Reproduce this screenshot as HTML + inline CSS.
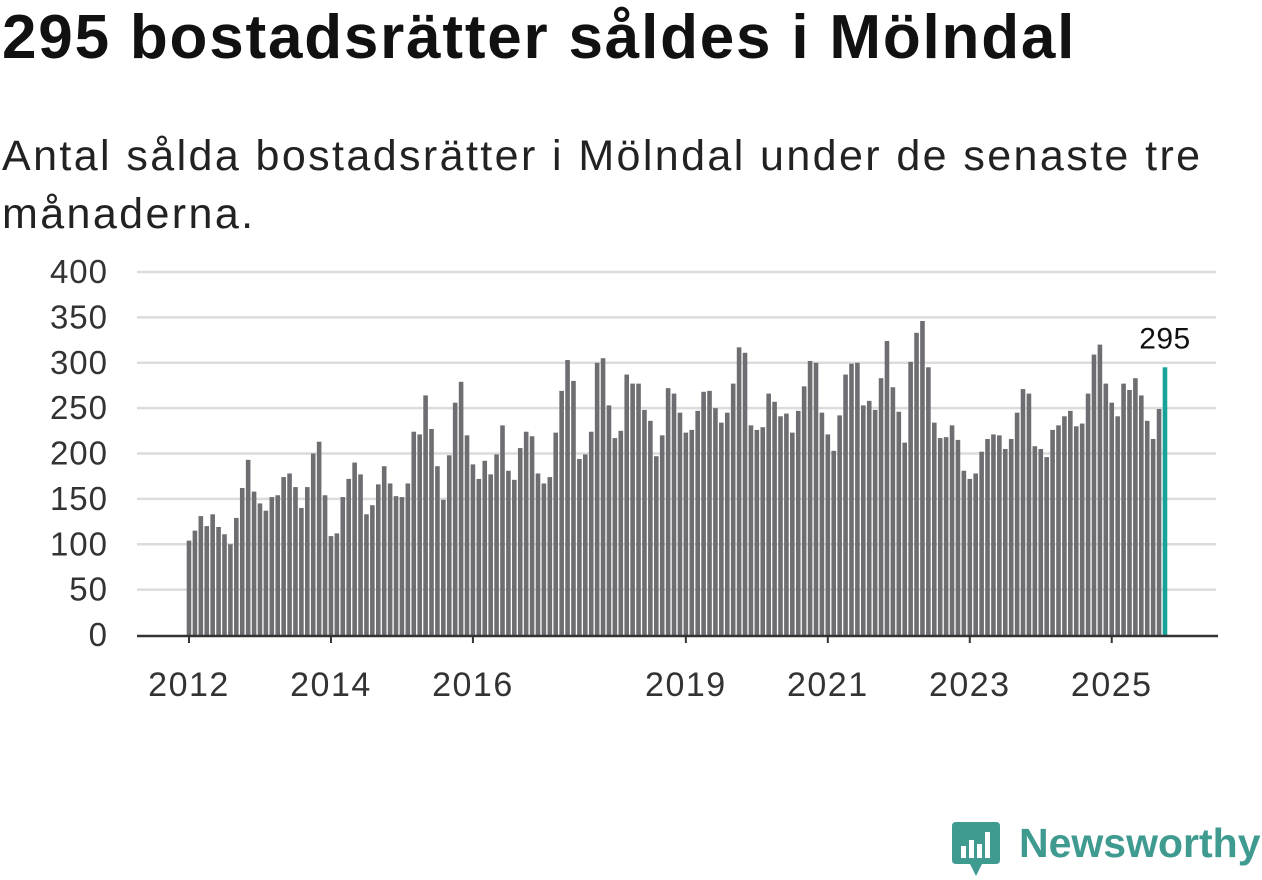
<!DOCTYPE html>
<html><head><meta charset="utf-8">
<style>
html,body{margin:0;padding:0;background:#fff;width:1262px;height:879px;overflow:hidden;font-family:"Liberation Sans",sans-serif;color:#111;}
h1{position:absolute;left:2px;top:2px;margin:0;font-size:62px;font-weight:bold;letter-spacing:1.8px;white-space:nowrap;}
.sub{position:absolute;left:2px;top:127px;margin:0;font-size:43px;line-height:58px;width:1250px;color:#222;letter-spacing:2.4px;}
svg{position:absolute;left:0;top:0;}
</style></head><body>
<h1>295 bostadsrätter såldes i Mölndal</h1>
<p class="sub">Antal sålda bostadsrätter i Mölndal under de senaste tre månaderna.</p>
<svg id="chart" width="1262" height="879"></svg>
<script>
const startYear = 2012;
const values = [104,115,131,120,133,119,111,100,129,162,193,158,145,137,152,154,174,178,163,140,163,200,213,154,109,112,152,172,190,177,133,143,166,
186,167,153,152,167,224,221,264,227,186,149,198,256,279,220,188,172,192,177,199,231,181,171,206,224,219,178,167,174,223,269,303,
280,194,199,224,300,305,253,217,225,287,277,277,248,236,197,220,272,266,245,223,226,247,268,269,250,234,245,277,317,311,231,226,
229,266,257,241,244,223,247,274,302,300,245,221,203,242,287,299,300,253,258,248,283,324,273,246,212,301,333,346,295,234,217,218,231,215,181,172,
178,202,216,221,220,205,216,245,271,266,208,205,196,226,231,241,247,230,233,266,309,320,277,256,241,277,270,283,264,236,216,249,295];
const yTicks = [0,50,100,150,200,250,300,350,400];
const xTickYears = [2012,2014,2016,2019,2021,2023,2025];

const svg = document.getElementById('chart');
const NS = 'http://www.w3.org/2000/svg';
const x0 = 189, step = 5.915, yBase = 635, yScale = 363/400;
const xPos = i => x0 + i*step;
const yPos = v => yBase - v*yScale;
function mk(tag, attrs){const e=document.createElementNS(NS,tag);for(const k in attrs)e.setAttribute(k,attrs[k]);svg.appendChild(e);return e;}

yTicks.forEach(t=>{
  if(t>0){const g=mk('line',{x1:137,x2:1216,y1:yPos(t),y2:yPos(t),stroke:'#dcdcdc','stroke-width':2.5});
  
  }
  const l=mk('text',{x:108,y:yPos(t)+11,'text-anchor':'end','font-size':33,'letter-spacing':1,fill:'#333','font-family':'Liberation Sans, sans-serif'});
  l.textContent=t;
  
  
});
values.forEach((v,i)=>{
  const last = i===values.length-1;
  const b=mk('rect',{x:xPos(i)-2.3,y:yPos(v),width:4.6,height:v*yScale,fill:last?'#17a398':'#6e6d72'});
  
  
});
const ax=mk('line',{x1:137,x2:1218,y1:yBase+1,y2:yBase+1,stroke:'#333','stroke-width':2.5});


xTickYears.forEach(yr=>{
  const x=xPos((yr-startYear)*12);
  const tk=mk('line',{x1:x,x2:x,y1:yBase+1,y2:yBase+8,stroke:'#333','stroke-width':2});
  
  
  const t=mk('text',{x:x,y:696,'text-anchor':'middle','font-size':34,'letter-spacing':1.5,fill:'#333','font-family':'Liberation Sans, sans-serif'});
  t.textContent=yr;
  
  
});
const lv=values[values.length-1];
const vl=mk('text',{x:xPos(values.length-1),y:yPos(lv)-19,'text-anchor':'middle','font-size':30,'letter-spacing':0.5,fill:'#111','font-family':'Liberation Sans, sans-serif'});
vl.textContent=lv;


</script>
<div style="position:absolute;left:952px;top:818px;width:310px;height:60px;">
<svg width="50" height="60" style="position:absolute;left:0;top:2px;">
<path d="M4 2 H44 Q48 2 48 6 V40 Q48 44 44 44 H30 L24 56 L18 44 H4 Q0 44 0 40 V6 Q0 2 4 2Z" fill="#3f9a90"/>
<rect x="9" y="26" width="5" height="12" fill="#fff"/><rect x="17" y="20" width="5" height="18" fill="#fff"/><rect x="25" y="24" width="5" height="14" fill="#fff"/><rect x="33" y="12" width="5" height="26" fill="#fff"/>
</svg>
<span style="position:absolute;left:67px;top:2px;font-size:41px;font-weight:bold;color:#3f9a90;">Newsworthy</span>
</div>
</body></html>
